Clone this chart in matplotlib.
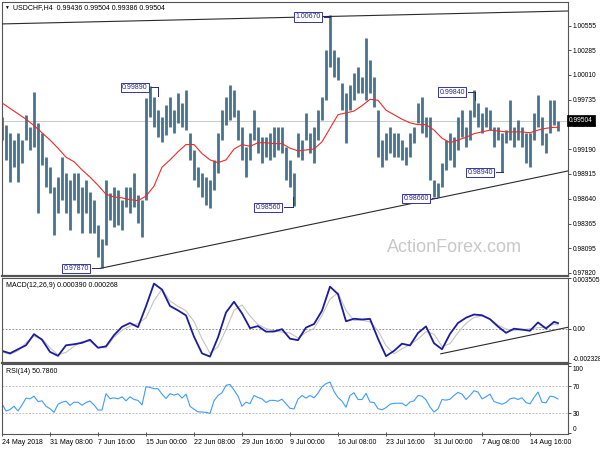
import matplotlib
matplotlib.use("Agg")
import matplotlib.pyplot as plt
import matplotlib.transforms as mtransforms

plt.rcParams['font.family'] = ['Liberation Sans', 'DejaVu Sans']

# --- data (H4 bars, merged ~ every 4 px of the original screenshot) ---
highs = [0.9955, 0.9946, 0.9937, 0.9929, 0.9937, 0.9929, 0.9957, 0.9943, 0.9982, 0.9948,
         0.9937, 0.9910, 0.9899, 0.9877, 0.9888, 0.9910, 0.9893, 0.9885, 0.9893, 0.9893,
         0.9877, 0.9885, 0.9872, 0.9863, 0.9835, 0.9819, 0.9885, 0.9870, 0.9877, 0.9874,
         0.9863, 0.9877, 0.9877, 0.9893, 0.9868, 0.9863, 0.9976, 0.9989, 0.9977, 0.9962,
         0.9955, 0.9968, 0.9977, 0.9962, 0.9981, 0.9970, 0.9984, 0.9937, 0.9918, 0.9899,
         0.9893, 0.9888, 0.9885, 0.9907, 0.9937, 0.9962, 0.9977, 0.9990, 0.9984, 0.9962,
         0.9943, 0.9921, 0.9937, 0.9962, 0.9943, 0.9932, 0.9932, 0.9937, 0.9943, 0.9943,
         0.9943, 0.9921, 0.9907, 0.9893, 0.9937, 0.9929, 0.9959, 0.9937, 0.9943, 0.9962,
         0.9977, 1.0029, 1.0067, 1.0029, 1.0021, 0.9992, 0.9981, 0.9990, 1.0003, 1.0010,
         0.9999, 1.0042, 1.0018, 0.9999, 0.9962, 0.9929, 0.9937, 0.9943, 0.9937, 0.9937,
         0.9929, 0.9921, 0.9937, 0.9943, 0.9970, 0.9977, 0.9955, 0.9955, 0.9885, 0.9882,
         0.9904, 0.9929, 0.9937, 0.9932, 0.9955, 0.9962, 0.9943, 0.9962, 0.9984, 0.9970,
         0.9959, 0.9966, 0.9962, 0.9943, 0.9943, 0.9937, 0.9940, 0.9973, 0.9943, 0.9951,
         0.9943, 0.9937, 0.9937, 0.9959, 0.9979, 0.9955, 0.9937, 0.9973, 0.9973, 0.99504]
lows = [0.9929, 0.9907, 0.9883, 0.9899, 0.9883, 0.9904, 0.9929, 0.9918, 0.9921, 0.9848,
        0.9901, 0.9877, 0.9870, 0.9824, 0.9848, 0.9863, 0.9848, 0.9830, 0.9863, 0.9848,
        0.9826, 0.9848, 0.9826, 0.9826, 0.9800, 0.9787, 0.9813, 0.9841, 0.9833, 0.9835,
        0.9830, 0.9855, 0.9848, 0.9855, 0.9837, 0.9822, 0.9863, 0.9955, 0.9943, 0.9932,
        0.9927, 0.9935, 0.9943, 0.9937, 0.9948, 0.9943, 0.9940, 0.9907, 0.9885, 0.9877,
        0.9866, 0.9857, 0.9854, 0.9874, 0.9893, 0.9929, 0.9946, 0.9951, 0.9955, 0.9929,
        0.9907, 0.9888, 0.9907, 0.9929, 0.9915, 0.9904, 0.9910, 0.9907, 0.9910, 0.9918,
        0.9915, 0.9885, 0.9877, 0.9856, 0.9910, 0.9907, 0.9929, 0.9915, 0.9904, 0.9929,
        0.9951, 0.9973, 1.0010, 0.9999, 0.9995, 0.9962, 0.9926, 0.9962, 0.9973, 0.9981,
        0.9981, 0.9973, 0.9981, 0.9966, 0.9910, 0.9899, 0.9907, 0.9915, 0.9910, 0.9910,
        0.9907, 0.9901, 0.9910, 0.9926, 0.9948, 0.9937, 0.9932, 0.9885, 0.9866, 0.9866,
        0.9877, 0.9896, 0.9907, 0.9899, 0.9918, 0.9932, 0.9921, 0.9929, 0.9955, 0.9943,
        0.9937, 0.9943, 0.9940, 0.9921, 0.9929, 0.9894, 0.9926, 0.9929, 0.9921, 0.9929,
        0.9921, 0.9904, 0.9899, 0.9929, 0.9943, 0.9924, 0.9915, 0.9937, 0.9946, 0.99386]

# moving average, MACD and signal, sampled every 2nd bar plus the last bar
ma = [0.9970, 0.9964, 0.9958, 0.9952, 0.9945, 0.9937, 0.9929, 0.9920, 0.9910, 0.9905,
      0.9896, 0.9888, 0.9879, 0.9869, 0.9866, 0.9865, 0.9863, 0.9862, 0.9867, 0.9878,
      0.9899, 0.9907, 0.9916, 0.9924, 0.9924, 0.9914, 0.9907, 0.9904, 0.9907, 0.9919,
      0.9924, 0.9922, 0.9926, 0.9926, 0.9925, 0.9925, 0.9920, 0.9917, 0.9918, 0.9919,
      0.9927, 0.9942, 0.9957, 0.9959, 0.9961, 0.9967, 0.9974, 0.9973, 0.9962, 0.9957,
      0.9952, 0.9948, 0.9946, 0.9946, 0.9940, 0.9931, 0.9926, 0.9929, 0.9932, 0.9936,
      0.9938, 0.9940, 0.9939, 0.9938, 0.9938, 0.9938, 0.9937, 0.9940, 0.9942, 0.9943,
      0.9943]
macd = [-0.00150, -0.00167, -0.00139, -0.00112, -0.00036, -0.00074, -0.00157, -0.00184, -0.00112, -0.00105,
        -0.00095, -0.00074, -0.00129, -0.00119, -0.00043, 0.00014, 0.00040, 0.00012, 0.00154, 0.00309,
        0.00268, 0.00156, 0.00126, 0.00092, -0.00053, -0.00167, -0.00189, -0.00058, 0.00112, 0.00185,
        0.00106, 0.00005, 0.00019, -0.00019, -0.00018, -0.00002, -0.00067, -0.00077, 0.00009, 0.00033,
        0.00124, 0.00288, 0.00237, 0.00052, 0.00069, 0.00064, 0.00068, -0.00067, -0.00186, -0.00150,
        -0.00101, -0.00113, -0.00028, 0.00017, -0.00098, -0.00139, -0.00034, 0.00040, 0.00076, 0.00098,
        0.00093, 0.00066, 0.00016, -0.00027, 0.00001, -0.00005, -0.00013, 0.00044, 0.00002, 0.00048,
        0.000390]
signal = [-0.00159, -0.00173, -0.00150, -0.00095, -0.00050, -0.00067, -0.00129, -0.00177, -0.00160, -0.00119,
          -0.00086, -0.00086, -0.00126, -0.00129, -0.00057, -0.00010, 0.00019, 0.00037, 0.00075, 0.00192,
          0.00271, 0.00190, 0.00154, 0.00124, 0.00050, -0.00067, -0.00166, -0.00122, -0.00005, 0.00126,
          0.00164, 0.00088, 0.00030, 0.00002, -0.00012, -0.00022, -0.00028, -0.00062, -0.00024, 0.00003,
          0.00092, 0.00202, 0.00247, 0.00126, 0.00057, 0.00061, 0.00047, -0.00012, -0.00115, -0.00170,
          -0.00136, -0.00108, -0.00070, -0.00019, -0.00036, -0.00120, -0.00101, -0.00026, 0.00038, 0.00078,
          0.00087, 0.00068, 0.00026, -0.00001, -0.00010, -0.00006, 0.00001, 0.00008, 0.00012, 0.00032,
          0.000268]
rsi = [43.8, 33.0, 35.0, 40.0, 33.0, 42.0, 52.0, 51.0, 55.0, 47.0,
       48.0, 40.0, 36.4, 31.0, 43.0, 46.0, 47.5, 41.3, 46.0, 46.0,
       41.5, 45.5, 47.8, 42.0, 34.5, 34.3, 58.6, 51.2, 52.5, 51.0,
       54.0, 48.0, 54.0, 50.0, 48.7, 42.0, 69.0, 68.0, 66.0, 66.0,
       58.0, 51.5, 58.6, 56.5, 58.5, 52.0, 58.0, 40.0, 35.5, 31.7,
       31.5, 31.0, 29.5, 48.0, 56.0, 60.0, 71.0, 72.4, 64.0, 55.0,
       40.0, 46.0, 44.0, 56.0, 53.0, 51.0, 45.5, 48.7, 48.7, 47.5,
       50.5, 43.5, 37.0, 36.0, 50.5, 56.0, 52.0, 56.0, 52.5, 59.5,
       69.0, 73.4, 75.9, 62.0, 53.0, 47.5, 38.5, 56.0, 60.0, 50.0,
       50.0, 59.0, 46.3, 45.5, 36.5, 34.8, 38.0, 43.0, 44.3, 44.5,
       44.5, 40.5, 46.3, 48.0, 56.0, 55.0, 49.5, 38.9, 31.5, 36.0,
       50.0, 49.0, 50.5, 56.0, 60.5, 58.0, 50.0, 56.0, 63.0, 61.0,
       51.0, 54.0, 58.0, 47.0, 45.0, 43.0, 45.5, 51.0, 52.5, 50.0,
       52.5, 45.5, 43.5, 53.0, 61.0, 46.0, 45.0, 55.0, 54.0, 50.786]

price_ticks = [1.00555, 1.00285, 1.00010, 0.99735, 0.99465, 0.99190,
               0.98915, 0.98640, 0.98365, 0.98095, 0.97820]
date_labels = ["24 May 2018", "31 May 08:00", "7 Jun 16:00", "15 Jun 00:00",
               "22 Jun 08:00", "29 Jun 16:00", "9 Jul 00:00", "16 Jul 08:00",
               "23 Jul 16:00", "31 Jul 00:00", "7 Aug 08:00", "14 Aug 16:00"]
last_close = 0.99504

# swing labels: value, box centre (bar, price), connector end bar, optional vertical end
swings = [(0.97870, 18.6, 0.97869, 24.5, None),
          (0.99890, 33.25, 0.99871, 39.0, 0.9978),
          (0.98560, 66.5, 0.98544, 72.75, 0.98660),
          (1.00670, 76.5, 1.00651, 82.0, None),
          (0.98660, 103.5, 0.98644, 108.75, None),
          (0.99840, 112.6, 0.99821, 118.25, 0.99733),
          (0.98940, 119.5, 0.98931, 125.25, None)]

# trendlines (bar, value)
upper_tl = [(0.0, 1.00574), (141.5, 1.00717)]
lower_tl = [(24.5, 0.97870), (141.5, 0.98948)]
macd_tl = [(109.7, -0.00170), (141.5, 0.00011)]

bars = list(range(len(highs)))
line_x = list(range(0, len(highs), 2)) + [len(highs) - 1]

fig = plt.figure(figsize=(6, 4.5), dpi=100)


def px_axes(left, top, right, bottom):
    return fig.add_axes([left / 600, 1 - bottom / 450, (right - left) / 600, (bottom - top) / 450])


ax_p = px_axes(1.5, 1.5, 567.5, 276)
ax_m = px_axes(1.5, 277.5, 567.5, 363)
ax_r = px_axes(1.5, 364, 567.5, 434)

for ax in (ax_p, ax_m, ax_r):
    ax.set_xlim(-0.125, 141.375)
    ax.yaxis.tick_right()
    ax.tick_params(axis='y', length=2, width=0.6, pad=1.5, labelsize=4.8, colors='#333333', labelcolor='black')
    for s in ax.spines.values():
        s.set_color('#555555')
        s.set_linewidth(0.8)
    ax.set_xticks([])
ax_p.spines['bottom'].set_linewidth(1.6)
ax_m.spines['bottom'].set_linewidth(1.6)

# ---- price panel ----
ax_p.set_ylim(0.97786, 1.00822)
ax_p.set_yticks(price_ticks)
ax_p.set_yticklabels(["%.5f" % v for v in price_ticks])
ax_p.axhline(last_close, color='#cccccc', lw=0.8, zorder=1)
ax_p.text((454 - 2) / 4, 0.98096, "ActionForex.com", fontsize=13, color='#c8c8c8',
          ha='center', va='center', zorder=0)
ax_p.vlines(bars, lows, highs, color='#46748f', lw=2.0, zorder=2)
ax_p.plot(line_x, ma, color='#ee2a2a', lw=0.8, zorder=3)
for tl in (upper_tl, lower_tl):
    ax_p.plot([tl[0][0], tl[1][0]], [tl[0][1], tl[1][1]], color='#2b2b2b', lw=0.8, zorder=3,
              clip_on=True)

for val, kb, pb, kend, vend in swings:
    ax_p.text(kb, pb, "%.5f" % val, fontsize=5, color='#25258a', ha='center', va='center', zorder=6,
              bbox=dict(boxstyle='square,pad=0.18', fc='white', ec='#3434a8', lw=0.7))
    ax_p.plot([kb + 3.9, kend], [pb, pb], color='#25258a', lw=0.7, zorder=5)
    if vend is not None:
        ax_p.plot([kend, kend], [pb, vend], color='#25258a', lw=0.7, zorder=5)

yx = mtransforms.blended_transform_factory(ax_p.transAxes, ax_p.transData)
ax_p.text(1.003, last_close, "%.5f" % last_close, transform=yx, fontsize=4.8, color='white',
          ha='left', va='center', zorder=7, clip_on=False,
          bbox=dict(boxstyle='square,pad=0.3', fc='black', ec='black', lw=0.5))
ax_p.text(0.004, 0.978, "\u25bc", transform=ax_p.transAxes, fontsize=3.5, color='black',
          ha='left', va='center')
ax_p.text(0.0195, 0.978, "USDCHF,H4  0.99436 0.99504 0.99386 0.99504", transform=ax_p.transAxes,
          fontsize=5, color='black', ha='left', va='center')

# ---- MACD panel ----
ax_m.set_ylim(-0.002328, 0.003505)
ax_m.set_yticks([0.003505, 0.0, -0.002328])
ax_m.set_yticklabels(["0.003505", "0.00", "-0.002328"])
lbls = ax_m.get_yticklabels()
lbls[0].set_va('top')
lbls[2].set_va('bottom')
ax_m.axhline(0, color='#808080', lw=0.6, ls=(0, (2, 2)))
ax_m.plot(line_x, signal, color='#c4c4c4', lw=0.8)
ax_m.plot(line_x, macd, color='#1c1c9e', lw=1.3)
ax_m.plot([macd_tl[0][0], macd_tl[1][0]], [macd_tl[0][1], macd_tl[1][1]], color='#2b2b2b', lw=0.8)
ax_m.text(0.008, 0.905, "MACD(12,26,9) 0.000390 0.000268", transform=ax_m.transAxes,
          fontsize=5, color='black', ha='left', va='center')

# ---- RSI panel ----
ax_r.set_ylim(-1.1, 102.6)
ax_r.set_yticks([100, 70, 30, 0])
ax_r.set_yticklabels(["100", "70", "30", "0"])
lbls = ax_r.get_yticklabels()
lbls[0].set_va('top')
lbls[3].set_va('bottom')
for lvl in (70, 30):
    ax_r.axhline(lvl, color='#b0b0b0', lw=0.6, ls=(0, (2, 2)))
ax_r.plot(bars, rsi, color='#3d9cff', lw=0.8)
ax_r.text(0.008, 0.89, "RSI(14) 50.7860", transform=ax_r.transAxes,
          fontsize=5, color='black', ha='left', va='center')

ax_r.set_xticks(range(0, 12 * len(date_labels), 12))
ax_r.set_xticklabels(date_labels)
ax_r.tick_params(axis='x', length=3, width=0.6, direction='inout', pad=2, labelsize=5, colors='#333333',
                 labelcolor='black')
for t in ax_r.get_xticklabels():
    t.set_ha('left')

fig.savefig("out.png", dpi=100, facecolor='white')
